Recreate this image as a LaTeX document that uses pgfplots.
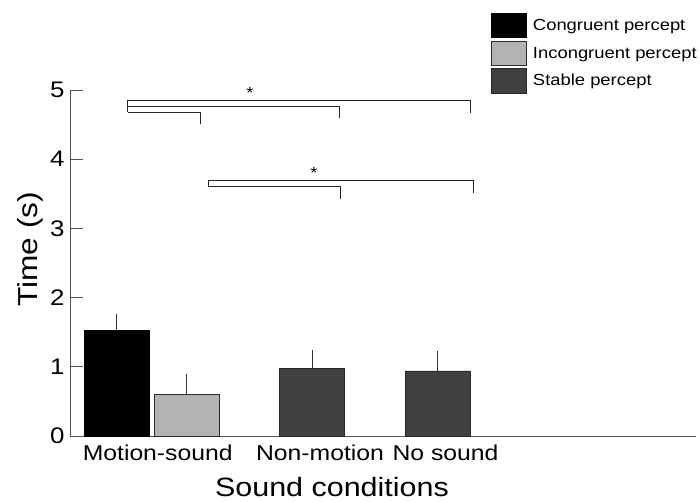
\documentclass[border=0pt]{standalone}
\usepackage{fontspec}
\setmainfont{Liberation Sans}[FakeStretch=1.15]
\usepackage{pgfplots}
\pgfplotsset{compat=1.18}
\definecolor{lightbar}{RGB}{179,179,179}
\definecolor{darkbar}{RGB}{64,64,64}
\definecolor{edge}{RGB}{45,45,45}
\definecolor{axisgray}{RGB}{85,85,85}
\begin{document}
\begin{tikzpicture}
\useasboundingbox (0,0) rectangle (700pt,501pt);
\begin{axis}[
  at={(70pt,65pt)}, anchor=south west,
  scale only axis, width=626pt, height=346pt,
  xmin=70, xmax=696, ymin=0, ymax=5,
  clip=false,
  axis x line=bottom, axis y line=left,
  axis line style={axisgray, line width=0.8pt, -},
  /pgf/number format/assume math mode=true,
  ytick={0,1,2,3,4,5},
  ytick style={axisgray, line width=0.8pt},
  major tick length=13pt, tick align=inside,
  yticklabel style={font=\fontsize{22.5}{24}\selectfont, xshift=-2pt},
  xtick={157.7,320,445.5},
  xticklabels={Motion-sound, Non-motion, No sound},
  xtick style={draw=none},
  xticklabel style={font=\fontsize{21.5}{24}\selectfont, yshift=-5pt},
  xlabel={Sound conditions},
  xlabel style={font=\fontsize{26.5}{30}\selectfont, at={(rel axis cs:0.4185,0)}, anchor=north, yshift=-38pt},
  ylabel={Time (s)},
  ylabel style={font=\fontsize{27.5}{30}\selectfont, at={(rel axis cs:0,0.54)}, yshift=23pt},
  legend style={draw=none, fill=none, at={(rel axis cs:0.6725,1.2217)}, anchor=north west,
    font=\fontsize{16}{19}\selectfont, inner sep=0pt, row sep=2.7pt,
    cells={anchor=west}},
  legend image code/.code={\draw[#1] (0pt,-12pt) rectangle (35pt,12pt); \path (39pt,0pt);},
  legend cell align=left,
]
\addplot[ybar, bar width=65pt, bar shift=0pt, fill=black, draw=black, line width=0.8pt,
  error bars/.cd, y dir=plus, y explicit, error mark=none,
  error bar style={edge, line width=1pt}]
  coordinates {(116.5,1.53) +- (0,0.24)};
\addlegendentry{Congruent percept}
\addplot[ybar, bar width=65pt, bar shift=0pt, fill=lightbar, draw=edge, line width=0.8pt,
  error bars/.cd, y dir=plus, y explicit, error mark=none,
  error bar style={edge, line width=1pt}]
  coordinates {(186.5,0.60) +- (0,0.29)};
\addlegendentry{Incongruent percept}
\addplot[ybar, bar width=65pt, bar shift=0pt, fill=darkbar, draw=black!85, line width=0.8pt,
  error bars/.cd, y dir=plus, y explicit, error mark=none,
  error bar style={edge, line width=1pt}]
  coordinates {(312,0.98) +- (0,0.27) (437.7,0.94) +- (0,0.29)};
\addlegendentry{Stable percept}
% significance brackets
\addplot[black!85, line width=0.8pt, forget plot] coordinates {(127.7,4.678) (127.7,4.855) (470,4.855) (470,4.672)};
\addplot[black!85, line width=0.8pt, forget plot] coordinates {(127.7,4.769) (339,4.769) (339,4.591)};
\addplot[black!85, line width=0.8pt, forget plot] coordinates {(127.7,4.678) (200,4.678) (200,4.504)};
\addplot[black!85, line width=0.8pt, forget plot] coordinates {(208.3,3.608) (208.3,3.695) (473.3,3.695) (473.3,3.516)};
\addplot[black!85, line width=0.8pt, forget plot] coordinates {(208.3,3.608) (340.7,3.608) (340.7,3.425)};
\node[font=\fontsize{16}{18}\selectfont, inner sep=0pt] at (axis cs:250,4.96) {*};
\node[font=\fontsize{16}{18}\selectfont, inner sep=0pt] at (axis cs:314,3.80) {*};
\end{axis}
\end{tikzpicture}
\end{document}
